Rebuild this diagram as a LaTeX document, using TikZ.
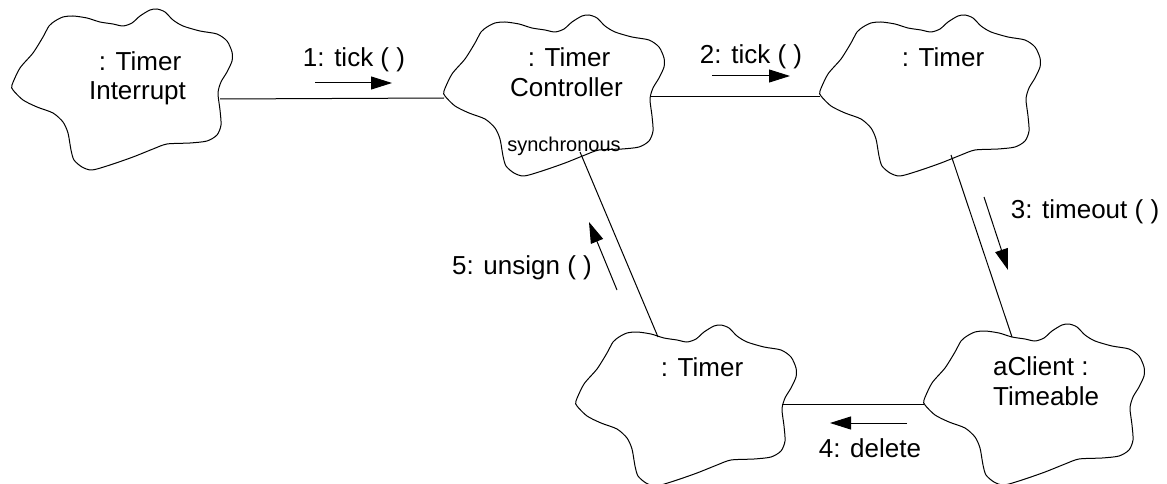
\documentclass[tikz,border=0pt]{standalone}
\usepackage{fontspec}
\setmainfont{Liberation Sans}
\usetikzlibrary{arrows.meta}
\tikzset{
  cloudline/.style={draw=black, line width=1pt, line join=round},
  cloudpic/.pic={\draw[cloudline] plot[smooth cycle, tension=0.45] coordinates {
    (12,85) (20,68) (33,53) (43,37) (49,26) (55,21) (63,17) (73,16) (87,18) (100,22)
    (113,24) (123,26) (132,23) (140,16) (150,10) (157,9) (165,12) (173,20) (183,26)
    (200,31) (217,34) (227,41) (232,52) (232,61) (227,72) (221,82) (218,93) (220,110)
    (221,125) (217,135) (207,141) (190,143) (167,144) (153,149) (133,157) (110,165)
    (92,170) (82,167) (74,160) (71,150) (68,133) (63,122) (53,113) (37,107) (23,100) (13,90)};},
  link/.style={draw=black, line width=1pt},
  msg/.style={draw=black, line width=1pt, -{Triangle[length=21pt,width=13pt]}},
  lbl/.style={font=\fontsize{26}{30}\selectfont, inner sep=0pt, anchor=base},
  lblw/.style={lbl, anchor=base west},
  smalllbl/.style={font=\fontsize{20}{24}\selectfont, inner sep=0pt, anchor=base},
}
\begin{document}
\begin{tikzpicture}[x=1pt,y=-1pt]
\useasboundingbox (0,0) rectangle (1167,484);
% clouds
\pic at (0,0) {cloudpic};
\pic at (432,6) {cloudpic};
\pic at (808,6) {cloudpic};
\pic at (564,316) {cloudpic};
\pic at (912,315) {cloudpic};
% texts
\node[lbl] (ti1) at (140,71) {: Timer};
\node[lbl] (ti2) at (137.5,100) {Interrupt};
\node[lbl] (tc1) at (569,67) {: Timer};
\node[lbl] (tc2) at (566.5,97) {Controller};
\node[smalllbl] (sync) at (564,152) {synchronous};
\node[lbl] (tt) at (943,67) {: Timer};
\node[lbl] (tb) at (702,376) {: Timer};
\node[lblw] (ac1) at (993,375) {aClient :};
\node[lblw] (ac2) at (993,405) {Timeable};
% attachment points
\coordinate (iR) at (220,99);
\coordinate (cL) at (444,98);
\coordinate (cR) at (650,97);
\coordinate (tL) at (820,97);
\coordinate (tB) at (951,155);
\coordinate (aT) at (1012,337);
\coordinate (aL) at (924,404);
\coordinate (bR) at (782,404);
\coordinate (bT) at (658,337);
\coordinate (cB) at (580,152);
% links
\draw[link] (iR) -- (cL);
\draw[link] (cR) -- (tL);
\draw[link] (tB) -- (aT);
\draw[link] (aL) -- (bR);
\draw[link] (bT) -- (cB);
% messages
\coordinate (m1s) at (315,83); \coordinate (m1e) at (392,83);
\coordinate (m2s) at (712,76); \coordinate (m2e) at (790,76);
\coordinate (m3s) at (984,197); \coordinate (m3e) at (1008,270);
\coordinate (m4s) at (907,423); \coordinate (m4e) at (830,423);
\coordinate (m5s) at (617,290); \coordinate (m5e) at (589,222);
\draw[msg] (m1s) -- (m1e);
\draw[msg] (m2s) -- (m2e);
\draw[msg] (m3s) -- (m3e);
\draw[msg] (m4s) -- (m4e);
\draw[msg] (m5s) -- (m5e);
\node[lbl] (l1) at (354,67) {1: tick ( )};
\node[lbl] (l2) at (751,64) {2: tick ( )};
\node[lbl] (l3) at (1085,218) {3: timeout ( )};
\node[lbl] (l4) at (870,457) {4: delete};
\node[lbl] (l5) at (522,274) {5: unsign ( )};
\end{tikzpicture}
\end{document}
